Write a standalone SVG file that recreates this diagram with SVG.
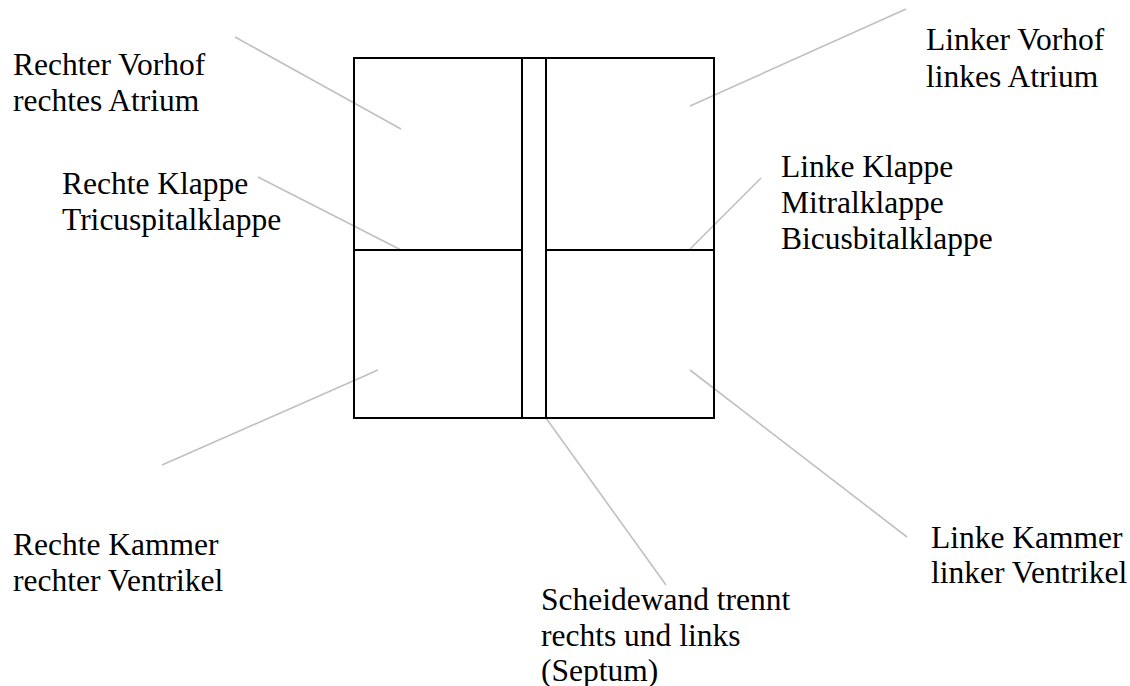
<svg xmlns="http://www.w3.org/2000/svg" width="1130" height="686" viewBox="0 0 1130 686">
<style>
.bg{fill:#ffffff}
.box{fill:none;stroke:#000000;stroke-width:2}
.wall{stroke:#000000;stroke-width:2}
.lead{stroke:#c0c0c0;stroke-width:1.6;fill:none}
.lbl{font-family:"Liberation Serif","Times New Roman",serif;font-size:31.5px;fill:#000000}
</style>
<rect class="bg" x="0" y="0" width="1130" height="686"/>
<g id="connectors">
<line class="lead" x1="235" y1="37" x2="401" y2="129"/>
<line class="lead" x1="258" y1="177" x2="401" y2="250"/>
<line class="lead" x1="162" y1="465" x2="378" y2="370"/>
<line class="lead" x1="906" y1="9" x2="690" y2="106"/>
<line class="lead" x1="761" y1="178" x2="690" y2="249"/>
<line class="lead" x1="690" y1="370" x2="907" y2="537"/>
<line class="lead" x1="546" y1="418" x2="666" y2="585"/>
</g>
<g id="heart">
<rect class="box" x="354" y="58" width="360" height="360"/>
<line class="wall" x1="522" y1="58" x2="522" y2="418"/>
<line class="wall" x1="546" y1="58" x2="546" y2="418"/>
<line class="wall" x1="354" y1="250" x2="522" y2="250"/>
<line class="wall" x1="546" y1="250" x2="714" y2="250"/>
</g>
<g id="label-rechter-vorhof">
<text class="lbl" x="13" y="75">Rechter Vorhof</text>
<text class="lbl" x="13" y="111">rechtes Atrium</text>
</g>
<g id="label-rechte-klappe">
<text class="lbl" x="62" y="194">Rechte Klappe</text>
<text class="lbl" x="62" y="230">Tricuspitalklappe</text>
</g>
<g id="label-rechte-kammer">
<text class="lbl" x="13" y="555">Rechte Kammer</text>
<text class="lbl" x="13" y="591">rechter Ventrikel</text>
</g>
<g id="label-linker-vorhof">
<text class="lbl" x="926" y="50">Linker Vorhof</text>
<text class="lbl" x="926" y="87">linkes Atrium</text>
</g>
<g id="label-linke-klappe">
<text class="lbl" x="781" y="177">Linke Klappe</text>
<text class="lbl" x="781" y="213">Mitralklappe</text>
<text class="lbl" x="781" y="249">Bicusbitalklappe</text>
</g>
<g id="label-linke-kammer">
<text class="lbl" x="931" y="548">Linke Kammer</text>
<text class="lbl" x="931" y="583">linker Ventrikel</text>
</g>
<g id="label-septum">
<text class="lbl" x="541" y="610">Scheidewand trennt</text>
<text class="lbl" x="541" y="646">rechts und links</text>
<text class="lbl" x="541" y="681">(Septum)</text>
</g>
</svg>
